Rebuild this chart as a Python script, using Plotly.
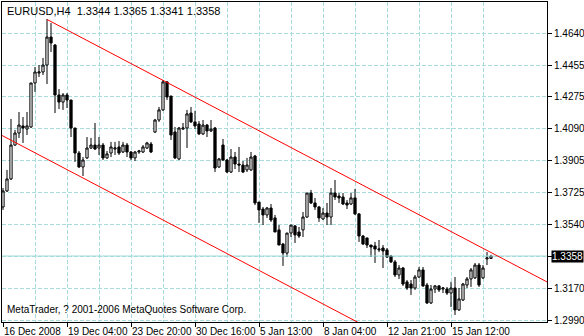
import plotly.graph_objects as go

# ---------------- data (EURUSD H4) ----------------
opens = [1.3640, 1.3732, 1.3801, 1.3996, 1.4065, 1.4106, 1.4088, 1.4100, 1.4353, 1.4410,
         1.4416, 1.4456, 1.4617, 1.4571, 1.4284, 1.4243, 1.4284, 1.4255, 1.4094, 1.3950,
         1.3870, 1.3922, 1.3979, 1.3996, 1.3979, 1.3996, 1.3922, 1.3950, 1.3973, 1.3985,
         1.3956, 1.3996, 1.3956, 1.3922, 1.3956, 1.3956, 1.3979, 1.4002, 1.4071, 1.4140,
         1.4198, 1.4359, 1.4278, 1.4071, 1.3916, 1.4088, 1.4094, 1.4180, 1.4129, 1.4117,
         1.4060, 1.4111, 1.4077, 1.4094, 1.3870, 1.3996, 1.3910, 1.3841, 1.3927, 1.3887,
         1.3881, 1.3853, 1.3853, 1.3933, 1.3668, 1.3628, 1.3594, 1.3634, 1.3577, 1.3508,
         1.3427, 1.3375, 1.3490, 1.3531, 1.3496, 1.3508, 1.3582, 1.3720, 1.3663, 1.3640,
         1.3571, 1.3605, 1.3582, 1.3720, 1.3703, 1.3697, 1.3663, 1.3657, 1.3692, 1.3600,
         1.3473, 1.3462, 1.3421, 1.3416, 1.3393, 1.3404, 1.3393, 1.3358, 1.3324, 1.3249,
         1.3289, 1.3209, 1.3197, 1.3174, 1.3237, 1.3278, 1.3191, 1.3088, 1.3168, 1.3186,
         1.3168, 1.3168, 1.3145, 1.3174, 1.3048, 1.3105, 1.3191, 1.3226, 1.3232, 1.3306,
         1.3232, 1.3341, 1.3344]
highs = [1.3749, 1.3853, 1.4146, 1.4083, 1.4186, 1.4157, 1.4186, 1.4353, 1.4445, 1.4456,
         1.4497, 1.4721, 1.4698, 1.4577, 1.4318, 1.4295, 1.4295, 1.4255, 1.4094, 1.3962,
         1.3927, 1.4042, 1.4037, 1.4123, 1.4042, 1.4008, 1.3962, 1.4014, 1.4014, 1.4019,
         1.4014, 1.4008, 1.3962, 1.3962, 1.3968, 1.3996, 1.4014, 1.4014, 1.4146, 1.4215,
         1.4370, 1.4364, 1.4278, 1.4100, 1.4100, 1.4123, 1.4198, 1.4215, 1.4192, 1.4134,
         1.4140, 1.4117, 1.4140, 1.4100, 1.3922, 1.4031, 1.3916, 1.3973, 1.3956, 1.3985,
         1.3904, 1.3922, 1.3956, 1.3939, 1.3668, 1.3640, 1.3640, 1.3657, 1.3594, 1.3536,
         1.3433, 1.3490, 1.3536, 1.3536, 1.3525, 1.3611, 1.3720, 1.3738, 1.3692, 1.3646,
         1.3634, 1.3663, 1.3749, 1.3795, 1.3720, 1.3720, 1.3680, 1.3720, 1.3743, 1.3605,
         1.3479, 1.3462, 1.3421, 1.3439, 1.3450, 1.3421, 1.3404, 1.3364, 1.3335, 1.3306,
         1.3295, 1.3220, 1.3220, 1.3249, 1.3295, 1.3295, 1.3203, 1.3191, 1.3191, 1.3191,
         1.3180, 1.3180, 1.3209, 1.3237, 1.3174, 1.3203, 1.3237, 1.3289, 1.3318, 1.3318,
         1.3306, 1.3381, 1.3365]
lows = [1.3623, 1.3726, 1.3795, 1.3991, 1.4037, 1.4008, 1.4054, 1.4094, 1.4301, 1.4387,
        1.4399, 1.4347, 1.4531, 1.4180, 1.4203, 1.4198, 1.4209, 1.4042, 1.3899, 1.3864,
        1.3818, 1.3916, 1.3973, 1.3968, 1.3939, 1.3910, 1.3916, 1.3927, 1.3939, 1.3939,
        1.3950, 1.3927, 1.3910, 1.3904, 1.3945, 1.3950, 1.3973, 1.3950, 1.4065, 1.4129,
        1.4192, 1.4255, 1.4025, 1.3916, 1.3910, 1.4083, 1.3979, 1.4123, 1.4088, 1.4054,
        1.4054, 1.4042, 1.4071, 1.3841, 1.3864, 1.3904, 1.3835, 1.3835, 1.3858, 1.3841,
        1.3835, 1.3841, 1.3847, 1.3651, 1.3548, 1.3536, 1.3577, 1.3554, 1.3496, 1.3421,
        1.3301, 1.3352, 1.3467, 1.3433, 1.3462, 1.3467, 1.3577, 1.3657, 1.3623, 1.3554,
        1.3565, 1.3536, 1.3536, 1.3680, 1.3663, 1.3651, 1.3628, 1.3651, 1.3594, 1.3439,
        1.3421, 1.3404, 1.3352, 1.3318, 1.3381, 1.3289, 1.3347, 1.3318, 1.3237, 1.3226,
        1.3186, 1.3163, 1.3134, 1.3163, 1.3232, 1.3180, 1.3082, 1.3082, 1.3145, 1.3151,
        1.3145, 1.3134, 1.3065, 1.3019, 1.3042, 1.3099, 1.3174, 1.3180, 1.3226, 1.3180,
        1.3226, 1.3306, 1.3341]
closes = [1.3732, 1.3801, 1.3996, 1.4065, 1.4111, 1.4094, 1.4106, 1.4353, 1.4416, 1.4416,
          1.4456, 1.4617, 1.4583, 1.4284, 1.4243, 1.4284, 1.4255, 1.4094, 1.3950, 1.3870,
          1.3910, 1.3979, 1.3996, 1.3973, 1.3996, 1.3922, 1.3945, 1.3985, 1.3979, 1.3950,
          1.3996, 1.3956, 1.3922, 1.3956, 1.3962, 1.3985, 1.4008, 1.3956, 1.4140, 1.4198,
          1.4359, 1.4272, 1.4054, 1.3922, 1.4094, 1.4094, 1.4175, 1.4129, 1.4106, 1.4060,
          1.4111, 1.4077, 1.4088, 1.3864, 1.3916, 1.3910, 1.3841, 1.3927, 1.3887, 1.3881,
          1.3841, 1.3881, 1.3927, 1.3663, 1.3623, 1.3594, 1.3634, 1.3565, 1.3496, 1.3421,
          1.3375, 1.3490, 1.3536, 1.3479, 1.3473, 1.3582, 1.3720, 1.3663, 1.3640, 1.3577,
          1.3605, 1.3582, 1.3720, 1.3697, 1.3692, 1.3657, 1.3651, 1.3692, 1.3600, 1.3473,
          1.3427, 1.3421, 1.3410, 1.3398, 1.3398, 1.3387, 1.3352, 1.3324, 1.3249, 1.3289,
          1.3197, 1.3174, 1.3174, 1.3237, 1.3278, 1.3186, 1.3088, 1.3168, 1.3186, 1.3163,
          1.3174, 1.3145, 1.3174, 1.3048, 1.3111, 1.3197, 1.3226, 1.3278, 1.3306, 1.3191,
          1.3289, 1.3347, 1.3358]
bars = list(range(len(closes)))

time_tick_bars = [0, 16, 32, 48, 64, 80, 96, 112]
time_tick_labels = ["16 Dec 2008", "19 Dec 04:00", "23 Dec 20:00", "30 Dec 16:00",
                    "5 Jan 13:00", "8 Jan 04:00", "12 Jan 21:00", "15 Jan 12:00"]
minor_tick_bars = [8, 24, 40, 56, 72, 88, 104, 120, 136]

price_ticks = [1.4640, 1.4455, 1.4275, 1.4090, 1.3905, 1.3725, 1.3540, 1.3355, 1.3170, 1.2990]
price_labels = ["1.4640", "1.4455", "1.4275", "1.4090", "1.3905", "1.3725", "1.3540", "",
                "1.3170", "1.2990"]

bid_price = 1.3358
symbol_title = "EURUSD,H4\u00a0 1.3344 1.3365 1.3341 1.3358"
copyright_text = "MetaTrader, ? 2001-2006 MetaQuotes Software Corp."

# equidistant channel anchors (bar index, price)
upper_x = [11, 136]
upper_y = [1.4718, 1.3209]
lower_x = [-1, 136]
lower_y = [1.4060, 1.2406]

x_range = [-0.25, 136]
y_range = [1.29785, 1.48185]

# ---------------- figure ----------------
GRID = "#a8dcdc"
FONT = "Liberation Sans, Arial, sans-serif"

fig = go.Figure()

fig.add_trace(go.Scatter(x=x_range, y=[bid_price, bid_price], mode="lines",
                         line=dict(color="#a0dcdc", width=1), hoverinfo="skip",
                         showlegend=False))

fig.add_trace(go.Candlestick(
    x=bars, open=opens, high=highs, low=lows, close=closes,
    increasing=dict(line=dict(color="black", width=1), fillcolor="white"),
    decreasing=dict(line=dict(color="black", width=1), fillcolor="black"),
    whiskerwidth=0, showlegend=False, hoverinfo="skip"))

fig.add_trace(go.Scatter(x=upper_x, y=upper_y, mode="lines",
                         line=dict(color="red", width=1), showlegend=False, hoverinfo="skip"))
fig.add_trace(go.Scatter(x=lower_x, y=lower_y, mode="lines",
                         line=dict(color="red", width=1), showlegend=False, hoverinfo="skip"))

fig.update_layout(
    width=584, height=336,
    margin=dict(l=2, r=37, t=2, b=14, pad=0),
    paper_bgcolor="white", plot_bgcolor="white",
    font=dict(family=FONT, size=10, color="black"),
    boxgap=0.2,
    xaxis=dict(
        range=x_range, rangeslider=dict(visible=False),
        tickmode="array", tickvals=time_tick_bars, ticktext=time_tick_labels,
        ticks="outside", ticklen=4, tickcolor="black", tickwidth=1,
        ticklabelposition="outside right", tickangle=0, automargin=False,
        showgrid=True, gridcolor=GRID, griddash="4px,2px", gridwidth=1,
        minor=dict(tickmode="array", tickvals=minor_tick_bars, showgrid=True,
                   gridcolor=GRID, griddash="4px,2px", ticks=""),
        showline=True, linecolor="black", linewidth=1, mirror=True,
        zeroline=False, tickfont=dict(family=FONT, size=10, color="black"),
    ),
    yaxis=dict(
        range=y_range, side="right", automargin=False,
        tickmode="array", tickvals=price_ticks, ticktext=price_labels,
        ticks="outside", ticklen=4, tickcolor="black", tickwidth=1,
        showgrid=True, gridcolor=GRID, griddash="4px,2px", gridwidth=1,
        showline=True, linecolor="black", linewidth=1, mirror=True,
        zeroline=False, tickfont=dict(family=FONT, size=10, color="black"),
    ),
    annotations=[
        dict(text=symbol_title, xref="paper", yref="paper", x=0, y=1,
             xanchor="left", yanchor="top", xshift=3, yshift=-1, showarrow=False,
             font=dict(family=FONT, size=11, color="black")),
        dict(text=copyright_text, xref="paper", yref="paper", x=0, y=0,
             xanchor="left", yanchor="bottom", xshift=3, yshift=5, showarrow=False,
             font=dict(family=FONT, size=10, color="black")),
        dict(text=f"{bid_price:.4f}", xref="paper", yref="y", x=1, y=bid_price,
             xanchor="left", yanchor="middle", xshift=4, showarrow=False,
             bgcolor="black", borderpad=0,
             font=dict(family=FONT, size=10, color="white")),
    ],
)

fig.write_html("out.html")
